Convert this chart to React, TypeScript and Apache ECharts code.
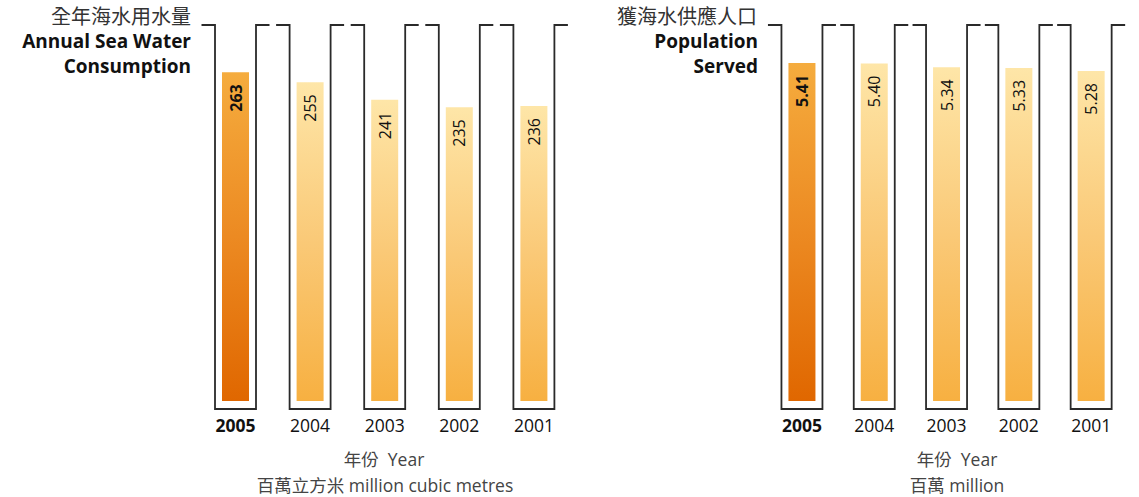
import React, { useEffect, useRef } from 'react';
import * as echarts from 'echarts';

const years = ['2005', '2004', '2003', '2002', '2001'];
const seaWater = [263, 255, 241, 235, 236];
const population = [5.41, 5.40, 5.34, 5.33, 5.28];
const seaWaterMax = 300;
const populationMax = 6;
const highlightYear = '2005';

const leftTitle = ['全年海水用水量', 'Annual Sea Water', 'Consumption'];
const rightTitle = ['獲海水供應人口', 'Population', 'Served'];
const leftNotes = ['年份  Year', '百萬立方米 million cubic metres'];
const rightNotes = ['年份  Year', '百萬 million'];

const FONT = '"Open Sans", "Noto Sans", "Noto Sans CJK TC", sans-serif';

const darkGrad = () =>
  new echarts.graphic.LinearGradient(0, 0, 0, 1, [
    { offset: 0, color: '#F5AC3E' },
    { offset: 0.5, color: '#EC8A22' },
    { offset: 1, color: '#E06700' },
  ]);
const lightGrad = () =>
  new echarts.graphic.LinearGradient(0, 0, 0, 1, [
    { offset: 0, color: '#FEE6A8' },
    { offset: 0.5, color: '#FAC977' },
    { offset: 1, color: '#F7B041' },
  ]);

function barData(values: number[], decimals: number) {
  return values.map((v, i) => {
    const hi = years[i] === highlightYear;
    return {
      value: v,
      itemStyle: { color: hi ? darkGrad() : lightGrad() },
      label: {
        fontWeight: hi ? 'bold' : 'normal',
        formatter: () => v.toFixed(decimals),
      },
    };
  });
}

function tubeSeries(xIdx: number, yMax: number) {
  return {
    type: 'custom',
    xAxisIndex: xIdx,
    yAxisIndex: xIdx,
    silent: true,
    z: 1,
    data: years.map((_, i) => [i]),
    renderItem: (params: any, api: any) => {
      const i = api.value(0);
      const base = api.coord([i, 0]);
      const top = api.coord([i, yMax]);
      const cx = base[0];
      const hw = 20.5;
      const fl = 13.5;
      const ty = top[1] - 1;
      const by = base[1] + 8;
      return {
        type: 'polyline',
        shape: {
          points: [
            [cx - hw - fl, ty],
            [cx - hw, ty],
            [cx - hw, by],
            [cx + hw, by],
            [cx + hw, ty],
            [cx + hw + fl, ty],
          ],
        },
        style: { stroke: '#2a2a2a', lineWidth: 1.8, fill: null },
      };
    },
  };
}

function barSeries(idx: number, values: number[], decimals: number) {
  return {
    type: 'bar',
    xAxisIndex: idx,
    yAxisIndex: idx,
    barWidth: 27,
    z: 2,
    data: barData(values, decimals),
    label: {
      show: true,
      position: 'insideTop',
      distance: 12,
      rotate: 90,
      align: 'right',
      verticalAlign: 'middle',
      color: '#111',
      fontSize: 16,
      fontFamily: FONT,
    },
  };
}

const xAxisCfg = (gridIndex: number) => ({
  type: 'category',
  gridIndex,
  data: years,
  axisLine: { show: false },
  axisTick: { show: false },
  axisLabel: {
    margin: 15,
    formatter: (v: string) => (v === highlightYear ? `{b|${v}}` : `{n|${v}}`),
    rich: {
      b: { fontWeight: 'bold', fontSize: 17.5, color: '#111', fontFamily: FONT },
      n: { fontSize: 17.5, color: '#111', fontFamily: FONT },
    },
  },
});

const yAxisCfg = (gridIndex: number, max: number) => ({
  type: 'value',
  gridIndex,
  min: 0,
  max,
  show: false,
  splitLine: { show: false },
});

function textEl(text: string, x: number, y: number, align: string, size: number, bold: boolean, color: string) {
  return {
    type: 'text',
    x,
    y,
    style: {
      text,
      align,
      verticalAlign: 'middle',
      fontSize: size,
      lineHeight: Math.ceil(size + 1),
      fontWeight: bold ? 'bold' : 'normal',
      fontFamily: FONT,
      fill: color,
    },
  };
}

export default function App() {
  const ref = useRef<HTMLDivElement>(null);
  useEffect(() => {
    if (!ref.current) return;
    const chart = echarts.init(ref.current, undefined, { renderer: 'svg' });
    chart.setOption({
      animation: false,
      backgroundColor: '#ffffff',
      grid: [
        { left: 198.2, width: 373, top: 26, bottom: 96 },
        { left: 765.8, width: 361.5, top: 26, bottom: 96 },
      ],
      xAxis: [xAxisCfg(0), xAxisCfg(1)],
      yAxis: [yAxisCfg(0, seaWaterMax), yAxisCfg(1, populationMax)],
      series: [
        tubeSeries(0, seaWaterMax),
        barSeries(0, seaWater, 0),
        tubeSeries(1, populationMax),
        barSeries(1, population, 2),
      ],
      graphic: [
        textEl(leftTitle[0], 191, 16.5, 'right', 20, false, '#333'),
        textEl(leftTitle[1], 191, 41, 'right', 19, true, '#111'),
        textEl(leftTitle[2], 191, 66, 'right', 19, true, '#111'),
        textEl(rightTitle[0], 757, 16.5, 'right', 20, false, '#333'),
        textEl(rightTitle[1], 758, 41, 'right', 19, true, '#111'),
        textEl(rightTitle[2], 758, 66, 'right', 19, true, '#111'),
        textEl(leftNotes[0], 384, 459, 'center', 17.5, false, '#444'),
        textEl(leftNotes[1], 385, 485, 'center', 17.5, false, '#444'),
        textEl(rightNotes[0], 957, 459, 'center', 17.5, false, '#444'),
        textEl(rightNotes[1], 957, 485, 'center', 17.5, false, '#444'),
      ],
    });
    return () => chart.dispose();
  }, []);
  return (
    <div
      ref={ref}
      style={{ position: 'absolute', left: 0, top: 0, width: 1139, height: 497 }}
    />
  );
}
